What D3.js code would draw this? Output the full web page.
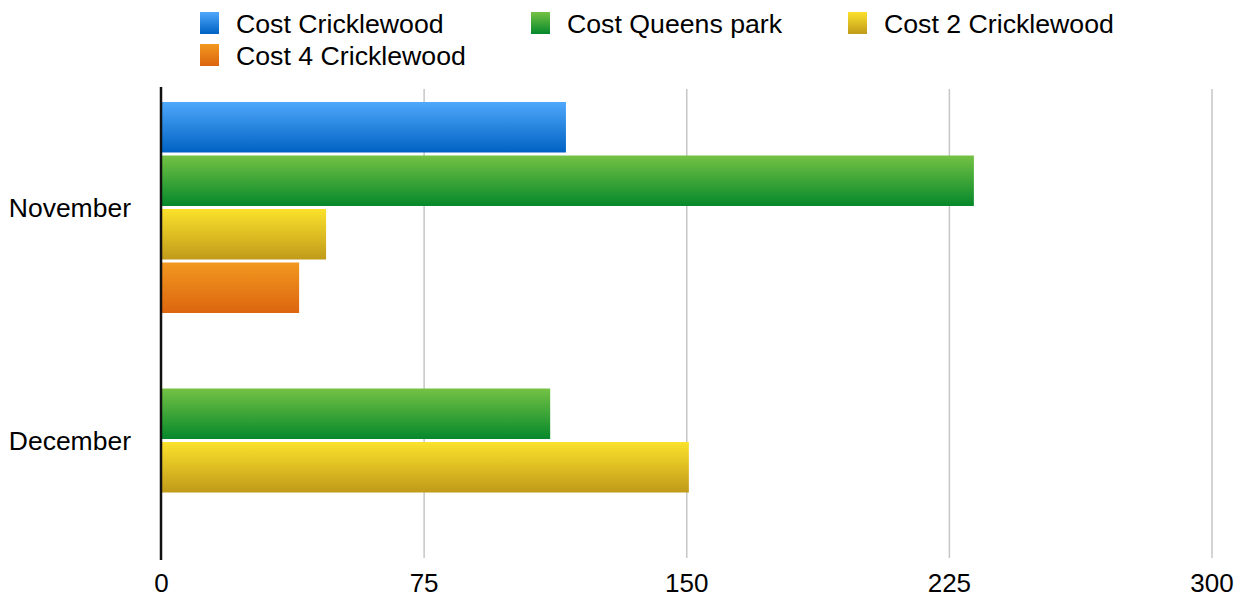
<!DOCTYPE html>
<html>
<head>
<meta charset="utf-8">
<script src="https://cdn.jsdelivr.net/npm/d3@7"></script>
<style>
  body { margin: 0; background: #fff; }
  svg { font-family: "Liberation Sans", Arial, Helvetica, sans-serif; }
</style>
</head>
<body>
<div id="chart"></div>
<script>
// data
const months = ["November", "December"];
const seriesNames = ["Cost Cricklewood", "Cost Queens park", "Cost 2 Cricklewood", "Cost 4 Cricklewood"];
const costCricklewood = [115.5, null];
const costQueensPark = [232, 111];
const cost2Cricklewood = [47, 150.6];
const cost4Cricklewood = [39.3, null];
const xTicks = [0, 75, 150, 225, 300];

const seriesValues = [costCricklewood, costQueensPark, cost2Cricklewood, cost4Cricklewood];
const gradStops = [
  ["#4fa8fb", "#0062c3"],
  ["#74c244", "#05882b"],
  ["#fbe22b", "#c09a1a"],
  ["#f2981f", "#dc650f"]
];

const svg = d3.select("#chart").append("svg")
  .attr("width", 1250)
  .attr("height", 601);

const defs = svg.append("defs");
gradStops.forEach((c, i) => {
  const g = defs.append("linearGradient")
    .attr("id", "grad" + i)
    .attr("x1", 0).attr("y1", 0).attr("x2", 0).attr("y2", 1);
  g.append("stop").attr("offset", "0%").attr("stop-color", c[0]);
  g.append("stop").attr("offset", "100%").attr("stop-color", c[1]);
});

const x = d3.scaleLinear().domain([0, 300]).range([161.5, 1212]);
const y = d3.scaleBand().domain(months).range([91, 557]).padding(0);

// gridlines
svg.append("g")
  .selectAll("line")
  .data(xTicks.filter(d => d > 0))
  .join("line")
  .attr("x1", d => x(d)).attr("x2", d => x(d))
  .attr("y1", 89).attr("y2", 558)
  .attr("stroke", "#c6c6c6")
  .attr("stroke-width", 1.5);

// bars: only present values, centered in each month band
const step = 53.5, barH = 50.5;
const bars = [];
months.forEach((m, mi) => {
  const present = seriesValues.map((v, si) => ({ si, v: v[mi] })).filter(d => d.v != null);
  const center = y(m) + y.bandwidth() / 2;
  const top = center - (present.length * step) / 2;
  present.forEach((d, k) => {
    bars.push({ month: m, si: d.si, value: d.v, y: top + k * step + (step - barH) / 2 });
  });
});

svg.append("g")
  .selectAll("rect")
  .data(bars)
  .join("rect")
  .attr("x", x(0) + 0.5)
  .attr("y", d => d.y)
  .attr("width", d => x(d.value) - x(0) - 0.5)
  .attr("height", barH)
  .attr("fill", d => "url(#grad" + d.si + ")");

// vertical axis line
svg.append("line")
  .attr("x1", 161).attr("x2", 161)
  .attr("y1", 87).attr("y2", 560)
  .attr("stroke", "#111")
  .attr("stroke-width", 2.5);

// category labels
svg.append("g")
  .selectAll("text")
  .data(months)
  .join("text")
  .attr("x", 131)
  .attr("y", d => y(d) + y.bandwidth() / 2)
  .attr("dy", "0.36em")
  .attr("text-anchor", "end")
  .style("font-size", "26.5px")
  .attr("fill", "#000")
  .text(d => d);

// x tick labels
svg.append("g")
  .selectAll("text")
  .data(xTicks)
  .join("text")
  .attr("x", d => x(d))
  .attr("y", 592)
  .attr("text-anchor", "middle")
  .style("font-size", "26px")
  .attr("fill", "#000")
  .text(d => d);

// legend
const legendPos = [[200, 12], [531, 12], [848, 12], [200, 44]];
const legend = svg.append("g")
  .selectAll("g")
  .data(seriesNames)
  .join("g")
  .attr("transform", (d, i) => `translate(${legendPos[i][0]},${legendPos[i][1]})`);

legend.append("rect")
  .attr("width", 19)
  .attr("height", 22)
  .attr("fill", (d, i) => "url(#grad" + i + ")");

legend.append("text")
  .attr("x", 36)
  .attr("y", 20.5)
  .style("font-size", "26.7px")
  .attr("fill", "#000")
  .text(d => d);
</script>
</body>
</html>
